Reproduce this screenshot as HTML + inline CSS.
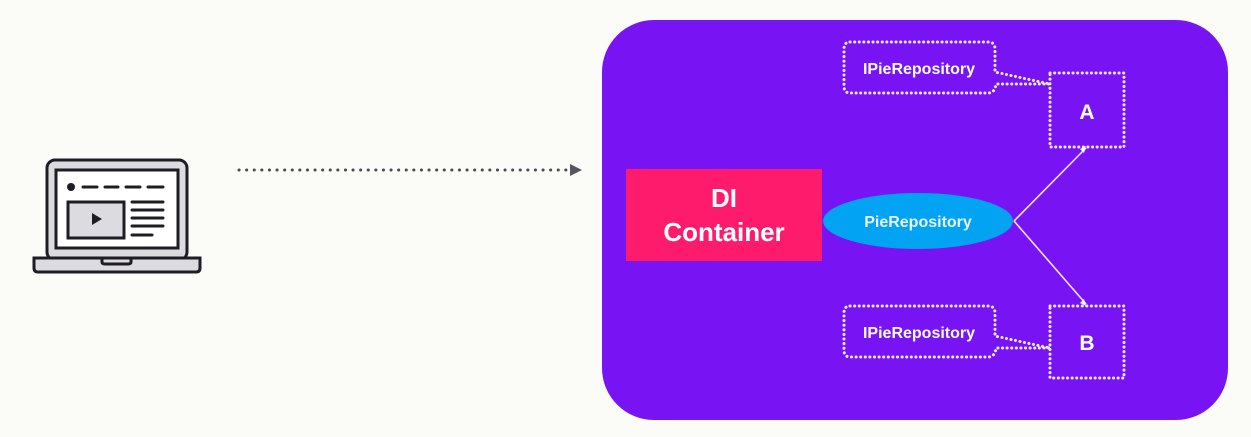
<!DOCTYPE html>
<html><head><style>
html,body{margin:0;padding:0;background:#fbfbf7;}
</style></head><body>
<svg width="1251" height="437" xmlns="http://www.w3.org/2000/svg" style="display:block">
<rect width="1251" height="437" fill="#fbfbf7"/>
<!-- laptop -->
<g stroke="#1f1d24" stroke-width="3" fill="#dcdbe0">
<rect x="47" y="160" width="140" height="100" rx="8"/>
<rect x="56" y="170" width="122" height="78" fill="#fff"/>
<rect x="68" y="202" width="56" height="36"/>
<path d="M34 258 H200 V268 Q200 272 196 272 H38 Q34 272 34 268 Z"/>
<path d="M102 258 V262 Q102 264 105 264 H128 Q131 264 131 262 V258" fill="none"/>
</g>
<circle cx="71" cy="187" r="4" fill="#1f1d24"/>
<g stroke="#1f1d24" stroke-width="3" stroke-linecap="round">
<line x1="83" y1="187" x2="97" y2="187"/><line x1="105" y1="187" x2="118" y2="187"/>
<line x1="126" y1="187" x2="140" y2="187"/><line x1="148" y1="187" x2="163" y2="187"/>
<line x1="132" y1="202" x2="163" y2="202"/><line x1="132" y1="210" x2="163" y2="210"/>
<line x1="132" y1="218" x2="163" y2="218"/><line x1="132" y1="226" x2="163" y2="226"/>
<line x1="132" y1="235" x2="152" y2="235"/>
</g>
<polygon points="92,213 92,225 102,219" fill="#1f1d24"/>
<!-- dotted arrow -->
<line x1="239" y1="170" x2="570" y2="170" stroke="#4a4a55" stroke-width="3" stroke-dasharray="0.1 7.5" stroke-linecap="round"/>
<polygon points="570,164 582,170 570,176" fill="#55555f"/>
<!-- purple panel -->
<rect x="602" y="20" width="626" height="400" rx="52" fill="#7814f4"/>
<rect x="626" y="169" width="196" height="92" fill="#ff1b6b"/>
<text x="724" y="207" font-family="Liberation Sans, sans-serif" font-weight="bold" font-size="26" fill="#fff" text-anchor="middle">DI</text>
<text x="724" y="241" font-family="Liberation Sans, sans-serif" font-weight="bold" font-size="26" fill="#fff" text-anchor="middle">Container</text>
<ellipse cx="918" cy="221" rx="95" ry="28" fill="#02a3f2"/>
<text x="918" y="227" font-family="Liberation Sans, sans-serif" font-weight="bold" font-size="16" fill="#e8f4ff" text-anchor="middle">PieRepository</text>
<g stroke="#f0e6ff" stroke-width="1.6" fill="none">
<line x1="1014" y1="221" x2="1086" y2="148"/>
<line x1="1014" y1="221" x2="1086" y2="304"/>
</g>
<polygon points="1086,146 1080,149 1084,153" fill="#fff"/>
<polygon points="1086,306 1080,303 1084,299" fill="#fff"/>
<g stroke="#f4eaff" stroke-width="3" stroke-dasharray="0.1 4.5" stroke-linecap="round" fill="none">
<rect x="1050" y="73" width="74" height="74"/>
<rect x="1050" y="306" width="74" height="72"/>
<path d="M850 42 H988 Q995 42 995 49 V72 L1050 84 L996 84 Q995 93 988 93 H850 Q844 93 844 86 V49 Q844 42 850 42 Z"/>
<path d="M850 306 H988 Q995 306 995 313 V336 L1050 348 L996 348 Q995 357 988 357 H850 Q844 357 844 350 V313 Q844 306 850 306 Z"/>
</g>
<text x="919" y="74" font-family="Liberation Sans, sans-serif" font-weight="bold" font-size="16" fill="#fff" text-anchor="middle">IPieRepository</text>
<text x="919" y="338" font-family="Liberation Sans, sans-serif" font-weight="bold" font-size="16" fill="#fff" text-anchor="middle">IPieRepository</text>
<text x="1087" y="119" font-family="Liberation Sans, sans-serif" font-weight="bold" font-size="21" fill="#fff" text-anchor="middle">A</text>
<text x="1087" y="350" font-family="Liberation Sans, sans-serif" font-weight="bold" font-size="21" fill="#fff" text-anchor="middle">B</text>
</svg>
</body></html>
